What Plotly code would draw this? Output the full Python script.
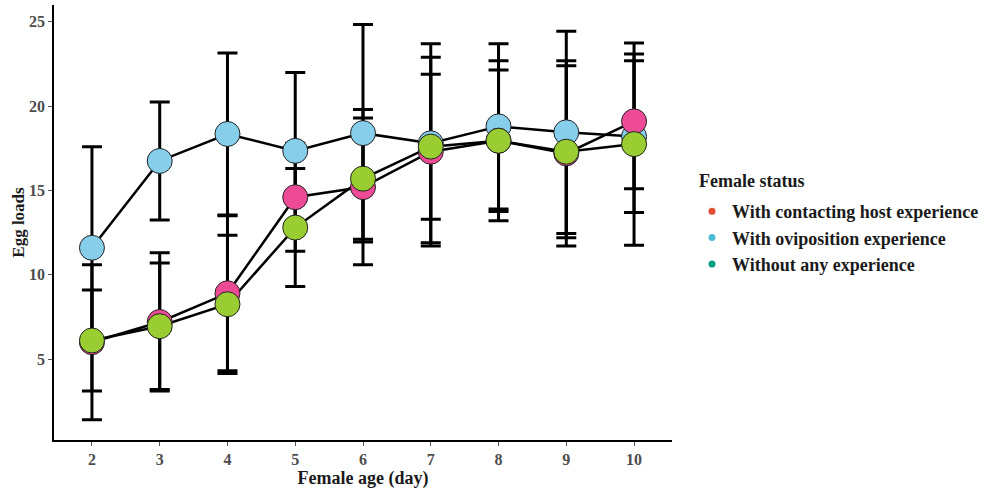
import plotly.graph_objects as go

days = [2, 3, 4, 5, 6, 7, 8, 9, 10]
tick_labels = ["2", "3", "4", "5", "6", "7", "8", "9", "10"]

contact_mean = [6.0, 7.2, 8.9, 14.6, 15.2, 17.3, 17.95, 17.2, 19.1]
contact_err = [4.6, 4.1, 4.6, 3.2, 4.6, 5.6, 4.75, 5.5, 4.0]

ovi_mean = [11.6, 16.75, 18.35, 17.35, 18.4, 17.8, 18.8, 18.45, 18.2]
ovi_err = [6.0, 3.5, 4.8, 4.65, 6.45, 5.9, 4.9, 6.0, 4.5]

none_mean = [6.1, 6.95, 8.25, 12.8, 15.7, 17.6, 17.95, 17.3, 17.75]
none_err = [3.0, 3.75, 4.1, 3.5, 3.6, 4.3, 4.2, 5.1, 6.0]

series_names = ["With contacting host experience", "With oviposition experience", "Without any experience"]
legend_colors = ["#E64B35", "#4DBBD5", "#00A087"]
fill_colors = ["#EE4B97", "#87CEEB", "#9ACD32"]

means = [contact_mean, ovi_mean, none_mean]
errs = [contact_err, ovi_err, none_err]

fig = go.Figure()

# error bars (drawn first)
for m, e in zip(means, errs):
    fig.add_trace(go.Scatter(
        x=days, y=m, mode="markers",
        marker=dict(size=1, color="rgba(0,0,0,0)"),
        error_y=dict(type="data", array=e, visible=True, color="black", thickness=3, width=10),
        showlegend=False, hoverinfo="skip"))

# lines
for m in means:
    fig.add_trace(go.Scatter(
        x=days, y=m, mode="lines",
        line=dict(color="black", width=2.5),
        showlegend=False, hoverinfo="skip"))

# points (order: oviposition, contacting, without)
for i in [1, 0, 2]:
    fig.add_trace(go.Scatter(
        x=days, y=means[i], mode="markers",
        marker=dict(size=25, color=fill_colors[i], line=dict(color="#222222", width=1)),
        showlegend=False, name=series_names[i]))

# legend entries
for i in range(3):
    fig.add_trace(go.Scatter(
        x=[None], y=[None], mode="markers",
        marker=dict(size=7, color=legend_colors[i]),
        name=series_names[i], legendgroup=f"g{i}", showlegend=True))

PL, PR, PT, PB = 54, 312, 5, 49
PW = 984 - PL - PR
PH = 489 - PT - PB

fig.update_layout(
    width=984, height=489,
    margin=dict(l=PL, r=PR, t=PT, b=PB, autoexpand=False),
    plot_bgcolor="white", paper_bgcolor="white",
    font=dict(family="Liberation Serif", color="#1a1a1a"),
    legend=dict(
        font=dict(size=18, color="#1a1a1a", weight="bold"),
        x=(692 - PL) / PW, y=(440 - 193) / PH, xanchor="left", yanchor="top",
        tracegroupgap=0, itemwidth=30,
    ),
    annotations=[dict(
        text="<b>Female status</b>", xref="paper", yref="paper",
        x=(697 - PL) / PW, y=(440 - 181) / PH, xanchor="left", yanchor="middle",
        showarrow=False, font=dict(size=18, color="#1a1a1a"))],
    xaxis=dict(
        range=[1.44, 10.56], tickmode="array", tickvals=days, ticktext=tick_labels,
        showline=True, linecolor="black", linewidth=1.5, showgrid=False, zeroline=False,
        ticks="outside", ticklen=4, tickcolor="#555555", tickwidth=1, automargin=False,
        tickfont=dict(family="Liberation Serif", size=16, color="#4D4D4D", weight="bold"),
        title=dict(text="<b>Female age (day)</b>", font=dict(size=18, color="#1a1a1a"), standoff=4),
    ),
    yaxis=dict(
        range=[0.2, 26.0], tickvals=[5, 10, 15, 20, 25],
        showline=True, linecolor="black", linewidth=1.5, showgrid=False, zeroline=False,
        ticks="outside", ticklen=4, tickcolor="#555555", tickwidth=1, automargin=False,
        tickfont=dict(family="Liberation Serif", size=16, color="#4D4D4D", weight="bold"),
        title=dict(text="<b>Egg loads</b>", font=dict(size=17, color="#1a1a1a"), standoff=0),
    ),
)

fig.write_html("out.html", config={"displayModeBar": False},
               post_script="document.body.style.margin='0';document.body.style.overflow='hidden';")
